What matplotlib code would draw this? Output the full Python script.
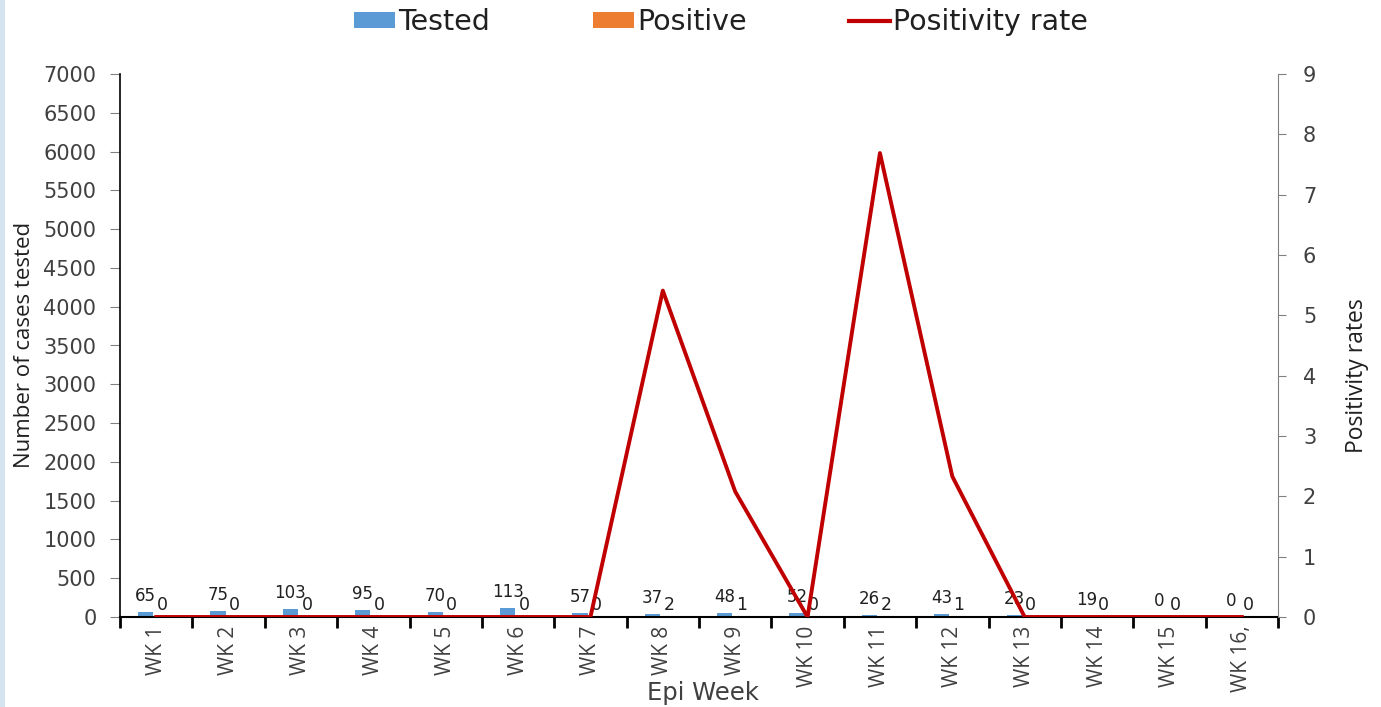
import matplotlib
matplotlib.use("Agg")
import matplotlib.pyplot as plt
from matplotlib.patches import Rectangle
from matplotlib.lines import Line2D
from matplotlib.patches import Patch
import numpy as np

weeks = ["WK 1", "WK 2", "WK 3", "WK 4", "WK 5", "WK 6", "WK 7", "WK 8",
         "WK 9", "WK 10", "WK 11", "WK 12", "WK 13", "WK 14", "WK 15", "WK 16,"]
tested = [65, 75, 103, 95, 70, 113, 57, 37, 48, 52, 26, 43, 23, 19, 0, 0]
positive = [0, 0, 0, 0, 0, 0, 0, 2, 1, 0, 2, 1, 0, 0, 0, 0]
positivity = [0, 0, 0, 0, 0, 0, 0, 5.41, 2.08, 0, 7.69, 2.33, 0, 0, 0, 0]

c_tested = "#5B9BD5"
c_pos = "#ED7D31"
c_rate = "#C00000"
txt = "#404040"

fig = plt.figure(figsize=(13.81, 7.07), dpi=100)
fig.patch.set_facecolor("white")
fig.patches.append(Rectangle((0, 0), 5/1381, 1, transform=fig.transFigure,
                             facecolor="#D6E3F0", edgecolor="none"))

ax = fig.add_axes([120/1381, 1-617/707, (1278-120)/1381, (617-74)/707])
x = np.arange(len(weeks))
w = 0.21
ax.bar(x - 0.145, tested, width=w, color=c_tested, zorder=2)
ax.bar(x + 0.075, positive, width=w, color=c_pos, zorder=2)
for xi, v in zip(x, tested):
    ax.annotate(str(v), (xi - 0.145, v), xytext=(0, 5), textcoords="offset points",
                ha="center", va="bottom", fontsize=12, color="#202020")
for xi, v in zip(x, positive):
    ax.annotate(str(v), (xi + 0.085, v), xytext=(0, 2), textcoords="offset points",
                ha="center", va="bottom", fontsize=12.5, color="#202020")

ax.set_xlim(-0.5, len(weeks) - 0.5)
ax.set_ylim(0, 7000)
ax.set_yticks(np.arange(0, 7001, 500))
ax.set_xticks(x)
ax.set_xticklabels(weeks, rotation=90, fontsize=15, color=txt, family="Open Sans")
ax.set_xticks(np.arange(-0.5, len(weeks), 1), minor=True)
ax.tick_params(axis="x", which="major", length=0, pad=6)
ax.tick_params(axis="x", which="minor", length=8, width=2, color="black", direction="out")
ax.tick_params(axis="y", length=7, color="#808080", labelsize=15, labelcolor=txt, pad=10)
for s in ["top", "right"]:
    ax.spines[s].set_visible(False)
ax.spines["left"].set_color("black")
ax.spines["left"].set_linewidth(1.2)
ax.spines["bottom"].set_color("black")
ax.spines["bottom"].set_linewidth(1.5)

ax2 = ax.twinx()
ax2.plot(x, positivity, color=c_rate, lw=2.8, zorder=3)
ax2.set_ylim(0, 9)
ax2.set_yticks(range(0, 10))
ax2.tick_params(axis="y", length=6, color="#808080", labelsize=15, labelcolor=txt, pad=12)
for s in ["top", "left", "bottom"]:
    ax2.spines[s].set_visible(False)
ax2.spines["right"].set_color("#808080")

fig.text(25/1381, 1-345/707, "Number of cases tested", rotation=90, ha="center", va="center",
         fontsize=16, color="#202020", family="Open Sans")
fig.text(1357/1381, 1-376/707, "Positivity rates", rotation=90, ha="center", va="center",
         fontsize=16.5, color="#202020", family="Open Sans")
fig.text(703/1381, 1-693/707, "Epi Week", ha="center", va="center", fontsize=17.5, color=txt)

handles = [Patch(facecolor=c_tested), Patch(facecolor=c_pos),
           Line2D([0], [0], color=c_rate, lw=3)]
fig.legend(handles, ["Tested", "Positive", "Positivity rate"], loc="center",
           bbox_to_anchor=(721/1381, 1-22/707), ncol=3, frameon=False,
           fontsize=20.5, handlelength=1.45, handleheight=0.45, handletextpad=0.1,
           columnspacing=3.6, labelcolor="#202020")

fig.savefig("out.png", dpi=100)
